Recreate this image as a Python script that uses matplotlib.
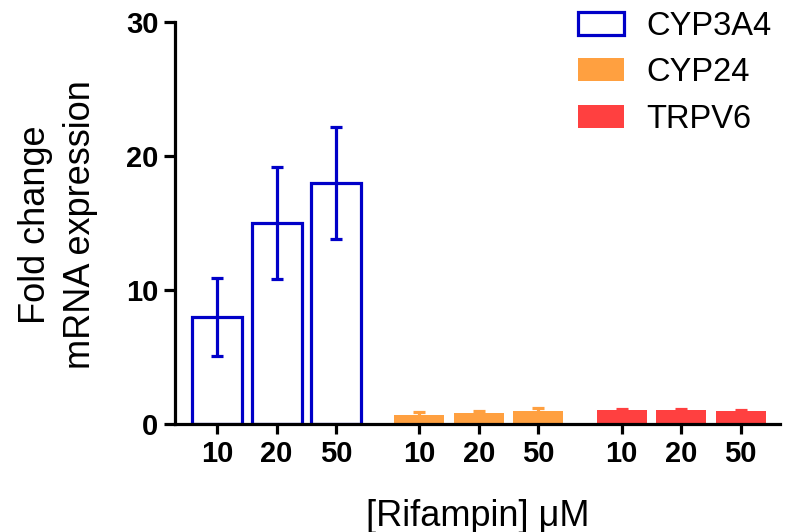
import numpy as np
import matplotlib
matplotlib.use('Agg')
import matplotlib.pyplot as plt
from matplotlib.patches import Patch

plt.rcParams['font.family'] = ['Liberation Sans', 'DejaVu Sans']

# fold change values (mean, SD) for each gene at 10, 20, 50 uM rifampin
doses = ['10', '20', '50']
genes = ['CYP3A4', 'CYP24', 'TRPV6']
cyp3a4_mean = [8.0, 15.0, 18.0]
cyp3a4_sd = [2.9, 4.2, 4.2]
cyp24_mean = [0.65, 0.8, 1.0]
cyp24_sd = [0.25, 0.15, 0.18]
trpv6_mean = [1.03, 1.03, 1.0]
trpv6_sd = [0.06, 0.06, 0.08]

blue = '#0000C8'
orange = '#FFA040'
red = '#FF4040'

group_offsets = [0.0, 3.4, 6.8]
bar_w = 0.84
lw = 2.3

fig = plt.figure(figsize=(7.9, 5.32), dpi=100)
ax = fig.add_axes([175/790, 1 - 424/532, 605/790, 402/532])

x1 = group_offsets[0] + np.arange(3)
x2 = group_offsets[1] + np.arange(3)
x3 = group_offsets[2] + np.arange(3)

ax.bar(x1, cyp3a4_mean, width=bar_w, facecolor='white', edgecolor=blue,
       linewidth=lw, zorder=2)
ax.errorbar(x1, cyp3a4_mean, yerr=cyp3a4_sd, fmt='none', ecolor=blue,
            elinewidth=lw, capsize=4.5, capthick=lw, zorder=3)

ax.bar(x2, cyp24_mean, width=bar_w, color=orange, linewidth=0, zorder=2)
ax.errorbar(x2, cyp24_mean, yerr=cyp24_sd, fmt='none', ecolor=orange,
            elinewidth=lw, capsize=4.5, capthick=lw, zorder=1)

ax.bar(x3, trpv6_mean, width=bar_w, color=red, linewidth=0, zorder=2)
ax.errorbar(x3, trpv6_mean, yerr=trpv6_sd, fmt='none', ecolor=red,
            elinewidth=lw, capsize=4.5, capthick=lw, zorder=1)

ax.set_xlim(-0.706, 9.46)
ax.set_ylim(0, 30)
ax.set_yticks([0, 10, 20, 30])
ax.set_xticks(np.concatenate([x1, x2, x3]))
ax.set_xticklabels(doses * 3)

for side in ['top', 'right']:
    ax.spines[side].set_visible(False)
for side in ['left', 'bottom']:
    ax.spines[side].set_linewidth(2.3)
    ax.spines[side].set_zorder(4)

ax.tick_params(axis='both', width=2.3, labelsize=21)
ax.tick_params(axis='y', length=8, pad=4)
ax.tick_params(axis='x', length=7.5, pad=4)
for lab in ax.get_xticklabels() + ax.get_yticklabels():
    lab.set_fontweight('bold')

ax.set_ylabel('Fold change\nmRNA expression', fontsize=26, labelpad=12,
              linespacing=1.35)
ax.yaxis.set_label_coords(-0.128, 0.495)
ax.set_xlabel('[Rifampin] \u03bcM', fontsize=26, labelpad=22)

handles = [
    Patch(facecolor='white', edgecolor=blue, linewidth=lw, label=genes[0]),
    Patch(facecolor=orange, edgecolor='none', label=genes[1]),
    Patch(facecolor=red, edgecolor='none', label=genes[2]),
]
fig.legend(handles=handles, loc='upper left',
           bbox_to_anchor=(578/790, 1 - 11/532), frameon=False,
           fontsize=23.5, handlelength=1.4, handleheight=0.7,
           handletextpad=0.7, labelspacing=0.47, borderpad=0,
           borderaxespad=0)

fig.savefig('out.png', dpi=100)
